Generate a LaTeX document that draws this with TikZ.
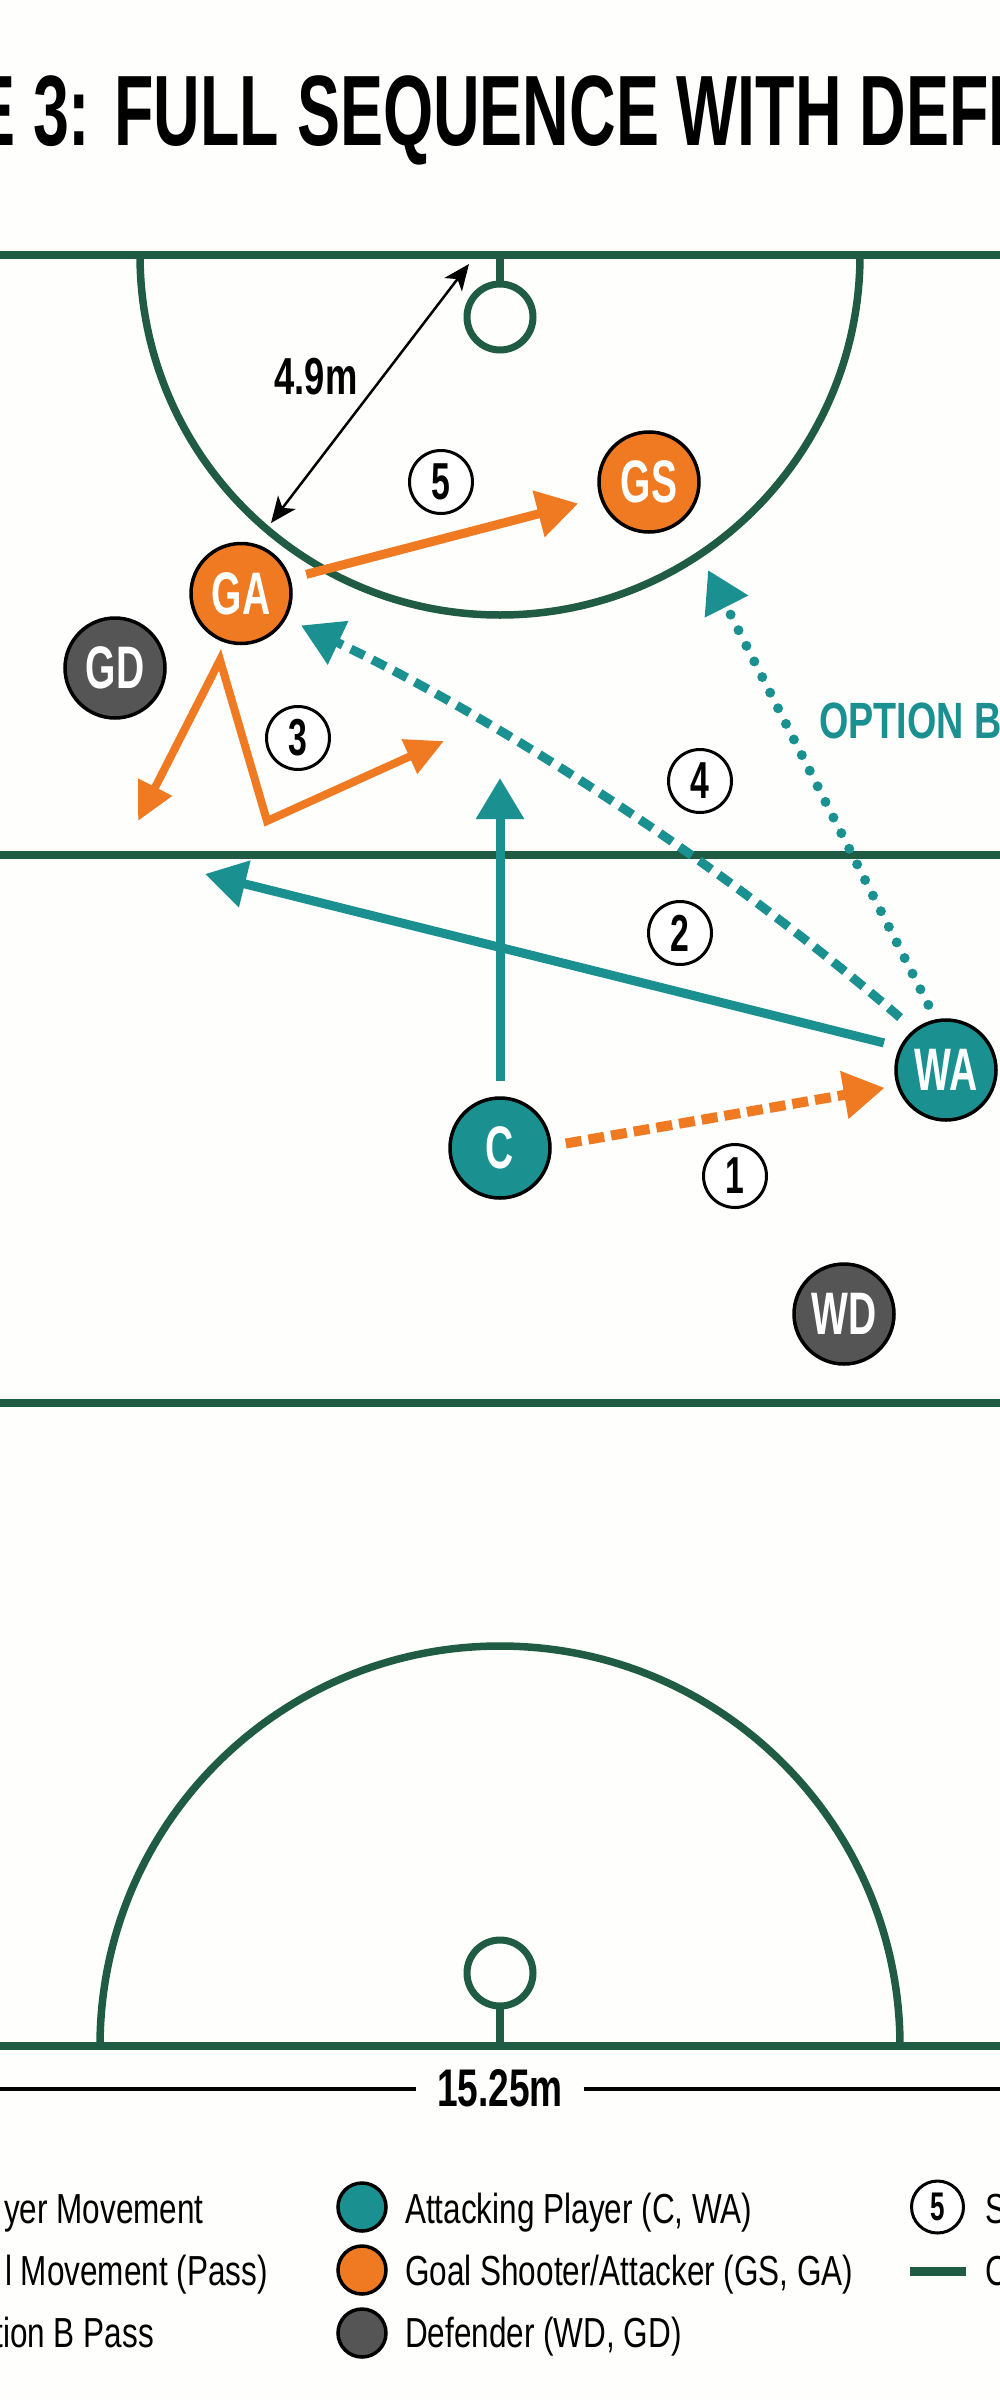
\documentclass[tikz,border=0pt]{standalone}
\usepackage{fontspec}
\usetikzlibrary{arrows.meta}
\setmainfont{Liberation Sans}
\newfontfamily\titlefont[FakeStretch=0.645]{Liberation Sans Bold}
\newfontfamily\labelfont[FakeStretch=0.65]{Liberation Sans Bold}
\newfontfamily\dimfont[FakeStretch=0.70]{Liberation Sans Bold}
\newfontfamily\optfont[FakeStretch=0.74]{Liberation Sans Bold}
\newfontfamily\legendfont[FakeStretch=0.75]{Liberation Sans}
\definecolor{bgwhite}{RGB}{254,254,252}
\definecolor{courtgreen}{RGB}{31,92,67}
\definecolor{teal1}{RGB}{27,144,144}
\definecolor{orange1}{RGB}{240,122,34}
\definecolor{grey1}{RGB}{85,85,85}
\tikzset{
  x=1pt,y=-1pt,
  courtline/.style={draw=courtgreen,line width=8.5pt},
  courtarc/.style={draw=courtgreen,line width=7.5pt},
  goalring/.style={circle,draw=courtgreen,line width=7pt,minimum size=66pt,inner sep=0pt,outer sep=0pt},
  player/.style={circle,draw=black,line width=3.5pt,minimum size=100pt,inner sep=0pt,outer sep=0pt,text=white,font=\labelfont\fontsize{60}{60}\selectfont},
  attacker/.style={player,fill=teal1},
  shooter/.style={player,fill=orange1},
  defender/.style={player,fill=grey1},
  seqnum/.style={circle,draw=black,line width=3pt,fill=white,minimum size=63pt,inner sep=0pt,outer sep=0pt,font=\labelfont\fontsize{52}{52}\selectfont},
  seqnumsmall/.style={seqnum,minimum size=52pt,font=\labelfont\fontsize{40}{40}\selectfont},
  bighead/.style={-{Triangle[length=41pt,width=46pt]}},
  smallhead/.style={{Triangle[length=38pt,width=36pt]}-{Triangle[length=38pt,width=36pt]}},
  tealmove/.style={draw=teal1,fill=none,line width=9pt,bighead,color=teal1},
  orangemove/.style={draw=orange1,line width=9pt,bighead,color=orange1},
  tealdash/.style={tealmove,dash pattern=on 15pt off 9pt},
  tealdots/.style={tealmove,line width=10pt,line cap=round,dash pattern=on 0pt off 17.5pt},
  orangedash/.style={orangemove,line width=10pt,dash pattern=on 16pt off 7pt},
  dimarrow/.style={draw=black,line width=2.5pt,{Stealth[length=26pt,width=22pt,inset=7pt]}-{Stealth[length=26pt,width=22pt,inset=7pt]}},
  legendtext/.style={inner sep=0pt,font=\legendfont\fontsize{42}{42}\selectfont},
  swatch/.style={circle,draw=black,line width=3.5pt,minimum size=48pt,inner sep=0pt,outer sep=0pt},
}
\begin{document}
\begin{tikzpicture}
\useasboundingbox (0,0) rectangle (1000,2400);
\clip (0,0) rectangle (1000,2400);
\fill[bgwhite] (0,0) rectangle (1000,2400);

% title
\node[anchor=base west,inner sep=0pt,font=\titlefont\fontsize{100}{100}\selectfont] (title) at (-28,146) {E 3: FULL SEQUENCE WITH DEFE};

% court
\coordinate (topL) at (0,255);
\coordinate (topR) at (1000,255);
\coordinate (midL) at (0,855);
\coordinate (midR) at (1000,855);
\coordinate (thirdL) at (0,1403);
\coordinate (thirdR) at (1000,1403);
\coordinate (botL) at (0,2046);
\coordinate (botR) at (1000,2046);
\coordinate (topGoalBase) at (500,255);
\coordinate (botGoalBase) at (500,2046);
\draw[courtarc] (140,255) arc[start angle=180,end angle=0,radius=360];
\draw[courtarc] (100,2046) arc[start angle=180,end angle=360,radius=400];
\node[goalring] (topGoal) at (500,317) {};
\node[goalring] (botGoal) at (500,1973) {};
\draw[courtarc] (topGoalBase) -- (topGoal.north);
\draw[courtarc] (botGoalBase) -- (botGoal.south);
\draw[courtline] (topL) -- (topR);
\draw[courtline] (midL) -- (midR);
\draw[courtline] (thirdL) -- (thirdR);
\draw[courtline] (botL) -- (botR);

% dimension lines
\node[inner sep=0pt,minimum width=167pt,font=\dimfont\fontsize{53}{53}\selectfont] (dimW) at (500,2088) {15.25m};
\coordinate (dimL) at (0,2089);
\coordinate (dimR) at (1000,2089);
\draw[black,line width=3.3pt] (dimL) -- (dimW.west |- dimL);
\draw[black,line width=3.3pt] (dimW.east |- dimR) -- (dimR);
\coordinate (arcA) at (469,264);
\coordinate (arcB) at (271,523);
\draw[dimarrow] (arcA) -- (arcB);
\node[inner sep=0pt,font=\dimfont\fontsize{52}{52}\selectfont] (dimArc) at (316,377) {4.9m};

% players
\node[shooter] (GA) at (241,593.5) {GA};
\node[shooter] (GS) at (649,482) {GS};
\node[defender] (GD) at (115,668) {GD};
\node[attacker] (C) at (500,1148) {C};
\node[attacker] (WA) at (946,1070) {WA};
\node[defender] (WD) at (844,1314) {WD};

% free ends
\coordinate (cTip) at (500,778);
\coordinate (waTip) at (205,874);
\coordinate (optTip) at (708,570);
\coordinate (m3a) at (138,821);
\coordinate (m3b) at (220,660);
\coordinate (m3c) at (267,821);
\coordinate (m3d) at (444,741);

% movements
\draw[tealmove,shorten <=17pt] (C.north) -- (cTip);
\draw[tealmove,shorten <=18pt] (WA.153.8) -- (waTip);
\draw[orangedash,shorten <=16pt,shorten >=14pt] (C.2.6) -- (WA.198.2);
\draw[tealdash,shorten <=20pt,shorten >=18pt] (WA.128.7) .. controls (700,845) and (470,705) .. (GA.-29.6);
\draw[tealdots,shorten <=18pt] (WA.101) -- (optTip);
\draw[orangemove,smallhead,line width=8pt,miter limit=10] (m3a) -- (m3b) -- (m3c) -- (m3d);
\draw[orangemove,shorten <=18pt,shorten >=24pt] (GA.17.5) -- (GS.198.2);

% sequence numbers
\node[seqnum] (n1) at (735,1176) {1};
\node[seqnum] (n2) at (680,933) {2};
\node[seqnum] (n3) at (298,738) {3};
\node[seqnum] (n4) at (700,781) {4};
\node[seqnum] (n5) at (441,482) {5};

\node[inner sep=0pt,text=teal1,anchor=base west,font=\optfont\fontsize{51}{51}\selectfont] (optB) at (819,738) {OPTION B};

% legend
\node[legendtext,anchor=base east] (legA) at (204,2223) {yer Movement};
\node[legendtext,anchor=base east] (legB) at (268,2285) {l Movement (Pass)};
\node[legendtext,anchor=base east] (legC) at (154,2347) {tion B Pass};
\node[swatch,fill=teal1] (swA) at (362,2207) {};
\node[swatch,fill=orange1] (swB) at (362,2270) {};
\node[swatch,fill=grey1] (swC) at (362,2333) {};
\node[legendtext,anchor=base west] (legD) at (405,2223) {Attacking Player (C, WA)};
\node[legendtext,anchor=base west] (legE) at (405,2285) {Goal Shooter/Attacker (GS, GA)};
\node[legendtext,anchor=base west] (legF) at (405,2347) {Defender (WD, GD)};
\node[seqnumsmall] (sw5) at (937.5,2207) {5};
\node[legendtext,anchor=base west] (legG) at (985,2223) {S};
\coordinate (lineA) at (910,2271);
\coordinate (lineB) at (966,2271);
\draw[draw=courtgreen,line width=9pt] (lineA) -- (lineB);
\node[legendtext,anchor=base west] (legH) at (985,2285) {C};
\end{tikzpicture}
\end{document}
